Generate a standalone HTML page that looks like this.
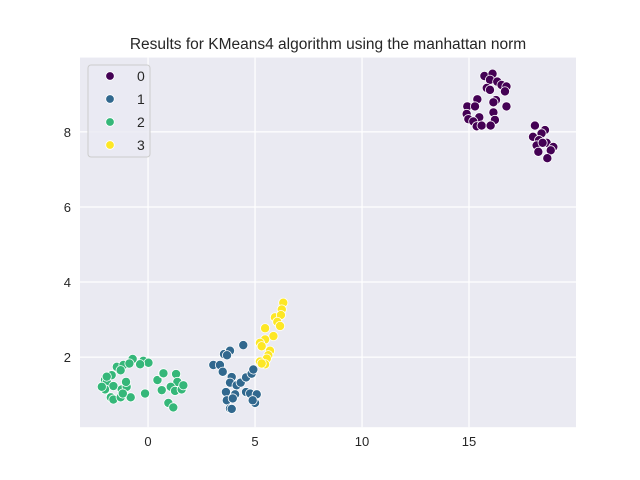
<!DOCTYPE html>
<html><head><meta charset="utf-8"><style>body{margin:0;background:#fff}svg{display:block;font-family:"Liberation Sans","DejaVu Sans",sans-serif}</style></head>
<body>
<svg id="chart" width="640" height="480">
<rect x="80" y="57.6" width="496" height="369.6" fill="#eaeaf2"/>
<g id="grid"></g><g id="ticks"></g><g id="pts"></g>
<text x="328" y="49" text-anchor="middle" font-size="15.5" fill="#262626">Results for KMeans4 algorithm using the manhattan norm</text>
<g id="legend"></g>
</svg>
<script>
const xTicks=[0,5,10,15];
const yTicks=[2,4,6,8];
const clusterLabels=["0","1","2","3"];
const clusterColors=["#440154","#31688e","#35b779","#fde725"];
const cluster0=[[15.72,9.49],[16.10,9.55],[15.98,9.39],[16.32,9.34],[15.83,9.17],[15.98,9.12],[16.52,9.25],[16.75,9.21],[16.68,9.08],[15.39,8.87],[16.26,8.85],[16.14,8.79],[16.75,8.68],[14.92,8.68],[15.28,8.68],[14.89,8.48],[14.97,8.34],[15.48,8.39],[16.14,8.52],[16.21,8.32],[15.20,8.28],[15.36,8.15],[15.59,8.17],[16.01,8.17],[18.08,8.17],[18.55,8.05],[18.39,7.96],[17.99,7.87],[18.27,7.78],[18.63,7.71],[18.16,7.64],[18.94,7.60],[18.82,7.51],[18.24,7.47],[18.66,7.30],[18.44,7.71]];
const cluster1=[[3.05,1.79],[3.36,1.79],[3.55,2.08],[3.83,2.17],[3.69,2.05],[4.45,2.32],[3.49,1.61],[3.91,1.47],[3.83,1.32],[4.14,1.25],[4.33,1.32],[4.58,1.46],[4.84,1.56],[4.92,1.67],[3.64,1.07],[4.07,1.01],[4.58,1.07],[4.77,1.03],[5.08,1.01],[3.68,0.85],[3.96,0.90],[5.00,0.78],[3.83,0.63],[3.91,0.62],[4.89,0.85]];
const cluster2=[[-2.01,1.39],[-1.93,1.34],[-1.70,1.52],[-1.62,1.23],[-2.01,1.14],[-1.74,0.93],[-1.62,0.87],[-1.28,0.93],[-1.23,1.14],[-1.00,1.21],[-1.03,1.34],[-1.46,1.74],[-1.15,1.79],[-0.72,1.95],[-0.87,1.83],[-1.28,1.65],[-0.22,1.90],[0.02,1.85],[-0.37,1.81],[-0.14,1.03],[-0.81,0.93],[0.44,1.39],[0.69,1.56],[0.64,1.12],[1.31,1.55],[1.37,1.34],[1.06,1.21],[1.26,1.10],[1.57,1.14],[1.65,1.25],[0.95,0.78],[1.18,0.66],[-1.93,1.48],[-2.16,1.21],[-1.18,1.03],[0.72,1.57]];
const cluster3=[[6.32,3.45],[6.25,3.27],[5.93,3.06],[6.21,3.12],[6.04,2.94],[6.17,2.83],[5.47,2.77],[5.86,2.56],[5.47,2.47],[5.23,2.38],[5.31,2.29],[5.70,2.17],[5.62,2.05],[5.55,1.96],[5.23,1.88],[5.47,1.81],[5.31,1.83]];
const clusters=[cluster0,cluster1,cluster2,cluster3];
const NS="http://www.w3.org/2000/svg";
const X0=80,X1=576,Y0=427.2,Y1=57.6,xmin=-3.18,xmax=20.0,ymin=0.133,ymax=9.98;
const sx=v=>X0+(v-xmin)/(xmax-xmin)*(X1-X0);
const sy=v=>Y0-(v-ymin)/(ymax-ymin)*(Y0-Y1);
function mk(t,a,p){const e=document.createElementNS(NS,t);for(const k in a)e.setAttribute(k,a[k]);p.appendChild(e);return e;}
const grid=document.getElementById('grid'),ticks=document.getElementById('ticks'),pts=document.getElementById('pts'),leg=document.getElementById('legend');
xTicks.forEach(t=>{const l=mk('line',{x1:sx(t),x2:sx(t),y1:Y1,y2:Y0,stroke:'#fff','stroke-width':1.25},grid);


const tx=mk('text',{x:sx(t),y:Y0+19,'text-anchor':'middle','font-size':13,fill:'#262626'},ticks);tx.textContent=t;

});
yTicks.forEach(t=>{const l=mk('line',{x1:X0,x2:X1,y1:sy(t),y2:sy(t),stroke:'#fff','stroke-width':1.25},grid);


const tx=mk('text',{x:X0-9,y:sy(t)+5,'text-anchor':'end','font-size':13,fill:'#262626'},ticks);tx.textContent=t;

});
clusters.forEach((c,i)=>c.forEach(p=>{const e=mk('circle',{cx:sx(p[0]),cy:sy(p[1]),r:4.6,fill:clusterColors[i],stroke:'#fff','stroke-width':0.8},pts);

}));
const box=mk('rect',{x:88,y:65,width:62,height:92,rx:3,fill:'#eaeaf2',stroke:'#ccc','stroke-width':1,'fill-opacity':0.8},leg);


clusterLabels.forEach((lab,i)=>{const y=76+i*23;
const c=mk('circle',{cx:110,cy:y,r:4.3,fill:clusterColors[i],stroke:'#fff','stroke-width':0.8},leg);


const t=mk('text',{x:137,y:y+5,'font-size':14,fill:'#262626'},leg);t.textContent=lab;

});
</script>
</body></html>
